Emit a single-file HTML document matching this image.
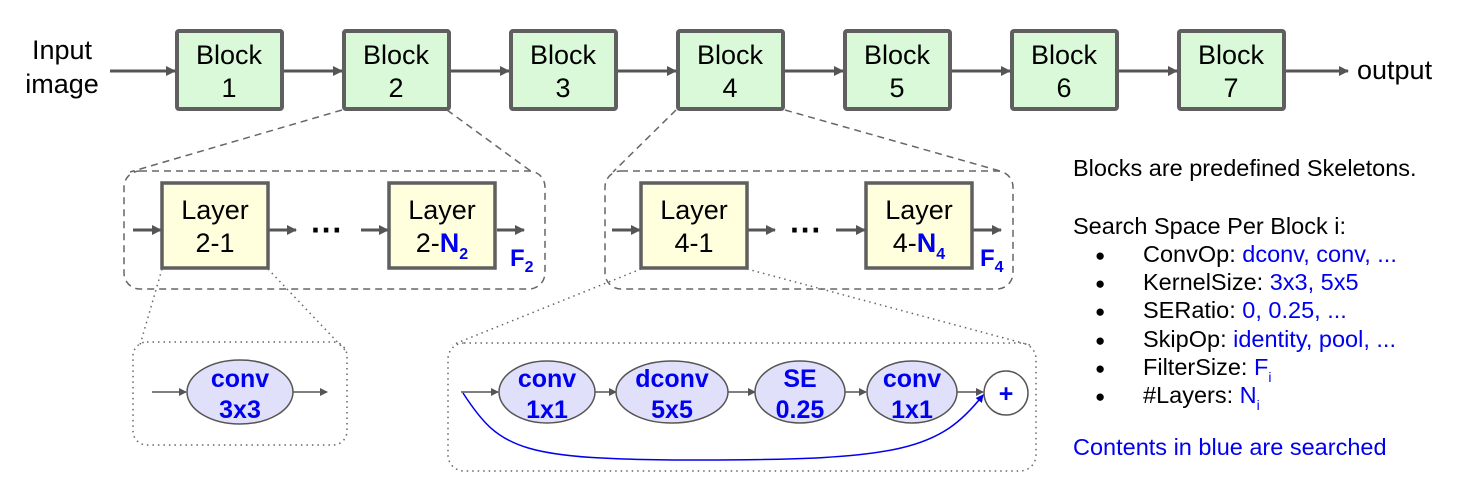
<!DOCTYPE html>
<html><head><meta charset="utf-8"><style>
html,body{margin:0;padding:0;background:#fff;}
svg{display:block;font-family:"Liberation Sans",Arial,sans-serif;}
</style></head><body>
<svg width="1462" height="481" viewBox="0 0 1462 481" xmlns="http://www.w3.org/2000/svg">
<defs>
<marker id="ah" markerWidth="10" markerHeight="10" refX="9" refY="5" orient="auto" markerUnits="userSpaceOnUse" viewBox="0 0 10 10"><path d="M0,0 L10,5 L0,10 z" fill="#555"/></marker>
<marker id="ahs" markerWidth="8" markerHeight="8" refX="7" refY="4" orient="auto" markerUnits="userSpaceOnUse" viewBox="0 0 8 8"><path d="M0,0 L8,4 L0,8 z" fill="#555"/></marker>
<marker id="ahb" markerWidth="8" markerHeight="8" refX="7" refY="4" orient="auto" markerUnits="userSpaceOnUse" viewBox="0 0 8 8"><path d="M0,0 L8,4 L0,8 z" fill="#0000ee"/></marker>
</defs>

<text x="62" y="59" font-size="27" text-anchor="middle">Input</text>
<text x="62" y="93" font-size="27" text-anchor="middle">image</text>
<g stroke="#555" stroke-width="3" fill="none">
<line x1="110" y1="71" x2="175" y2="71" marker-end="url(#ah)"/>
<line x1="283" y1="71" x2="342" y2="71" marker-end="url(#ah)"/>
<line x1="450" y1="71" x2="509" y2="71" marker-end="url(#ah)"/>
<line x1="617" y1="71" x2="676" y2="71" marker-end="url(#ah)"/>
<line x1="784" y1="71" x2="843" y2="71" marker-end="url(#ah)"/>
<line x1="951" y1="71" x2="1010" y2="71" marker-end="url(#ah)"/>
<line x1="1118" y1="71" x2="1177" y2="71" marker-end="url(#ah)"/>
<line x1="1285" y1="71" x2="1348" y2="71" marker-end="url(#ah)"/>
</g>
<g fill="#d9f9d9" stroke="#5f5f5f" stroke-width="4">
<rect x="177" y="31" width="105" height="78" rx="2"/>
<rect x="344" y="31" width="105" height="78" rx="2"/>
<rect x="511" y="31" width="105" height="78" rx="2"/>
<rect x="678" y="31" width="105" height="78" rx="2"/>
<rect x="845" y="31" width="105" height="78" rx="2"/>
<rect x="1012" y="31" width="105" height="78" rx="2"/>
<rect x="1179" y="31" width="105" height="78" rx="2"/>
</g>
<g font-size="27" text-anchor="middle">
<text x="229" y="64">Block</text><text x="229" y="97">1</text>
<text x="396" y="64">Block</text><text x="396" y="97">2</text>
<text x="563" y="64">Block</text><text x="563" y="97">3</text>
<text x="730" y="64">Block</text><text x="730" y="97">4</text>
<text x="897" y="64">Block</text><text x="897" y="97">5</text>
<text x="1064" y="64">Block</text><text x="1064" y="97">6</text>
<text x="1231" y="64">Block</text><text x="1231" y="97">7</text>
</g>
<text x="1357" y="79" font-size="27">output</text>

<g stroke="#666" stroke-width="1.5" stroke-dasharray="7,5" fill="none">
<line x1="342" y1="110" x2="130" y2="172"/>
<line x1="447" y1="110" x2="532" y2="172"/>
<line x1="676" y1="110" x2="613" y2="172"/>
<line x1="785" y1="110" x2="1000" y2="171"/>
<rect x="124" y="171" width="421" height="118" rx="16"/>
<rect x="605" y="171" width="408" height="118" rx="16"/>
</g>

<g stroke="#555" stroke-width="3" fill="none">
<line x1="133" y1="230" x2="161" y2="230" marker-end="url(#ah)"/>
<line x1="269" y1="230" x2="296" y2="230" marker-end="url(#ah)"/>
<line x1="361" y1="230" x2="388" y2="230" marker-end="url(#ah)"/>
<line x1="497" y1="230" x2="524" y2="230" marker-end="url(#ah)"/>
<line x1="612" y1="230" x2="640" y2="230" marker-end="url(#ah)"/>
<line x1="748" y1="230" x2="775" y2="230" marker-end="url(#ah)"/>
<line x1="836" y1="230" x2="865" y2="230" marker-end="url(#ah)"/>
<line x1="973" y1="230" x2="1001" y2="230" marker-end="url(#ah)"/>
</g>
<g fill="#ffffdd" stroke="#5f5f5f" stroke-width="3.5">
<rect x="162" y="183" width="106" height="85"/>
<rect x="389" y="183" width="106" height="85"/>
<rect x="641" y="183" width="106" height="85"/>
<rect x="866" y="183" width="106" height="85"/>
</g>
<g font-size="27" text-anchor="middle">
<text x="215" y="219">Layer</text><text x="215" y="252">2-1</text>
<text x="442" y="219">Layer</text><text x="442" y="252">2-<tspan fill="#0000ee" font-weight="bold">N</tspan><tspan fill="#0000ee" font-weight="bold" font-size="16" dy="7">2</tspan></text>
<text x="694" y="219">Layer</text><text x="694" y="252">4-1</text>
<text x="919" y="219">Layer</text><text x="919" y="252">4-<tspan fill="#0000ee" font-weight="bold">N</tspan><tspan fill="#0000ee" font-weight="bold" font-size="16" dy="7">4</tspan></text>
</g>
<g font-size="32" font-weight="bold" text-anchor="middle"><text x="327" y="241">···</text><text x="806" y="241">···</text></g>
<text x="510" y="266" font-size="24" font-weight="bold" fill="#0000ee">F<tspan font-size="16" dy="6">2</tspan></text>
<text x="980" y="266" font-size="24" font-weight="bold" fill="#0000ee">F<tspan font-size="16" dy="6">4</tspan></text>

<g stroke="#666" stroke-width="1.5" stroke-dasharray="1.5,4" fill="none">
<line x1="162" y1="269" x2="140" y2="345"/>
<line x1="268" y1="269" x2="345" y2="350"/>
<line x1="641" y1="269" x2="452" y2="345"/>
<line x1="747" y1="269" x2="1030" y2="345"/>
<rect x="133" y="342" width="214" height="103" rx="14"/>
<rect x="448" y="343" width="588" height="128" rx="16"/>
</g>

<g stroke="#555" stroke-width="1.5" fill="none">
<line x1="152" y1="392" x2="186" y2="392" marker-end="url(#ahs)"/>
<line x1="293" y1="392" x2="327" y2="392" marker-end="url(#ahs)"/>
<line x1="461" y1="392" x2="498" y2="392" marker-end="url(#ahs)"/>
<line x1="595" y1="392" x2="616" y2="392" marker-end="url(#ahs)"/>
<line x1="728" y1="392" x2="755" y2="392" marker-end="url(#ahs)"/>
<line x1="845" y1="392" x2="866" y2="392" marker-end="url(#ahs)"/>
<line x1="956" y1="392" x2="983" y2="392" marker-end="url(#ahs)"/>
</g>
<g fill="#e0e0fa" stroke="#555" stroke-width="1.5">
<ellipse cx="240" cy="392" rx="53" ry="32"/>
<ellipse cx="547" cy="392" rx="48" ry="31"/>
<ellipse cx="672" cy="392" rx="56" ry="31"/>
<ellipse cx="800" cy="392" rx="45" ry="31"/>
<ellipse cx="912" cy="392" rx="45" ry="31"/>
</g>
<circle cx="1006" cy="393" r="22" fill="#fff" stroke="#555" stroke-width="1.5"/>
<path d="M463,393 C500,450 520,460 700,460 C900,460 940,450 983,395" fill="none" stroke="#0000ee" stroke-width="1.5" marker-end="url(#ahb)"/>
<g font-size="25" font-weight="bold" fill="#0000ee" text-anchor="middle">
<text x="240" y="387">conv</text><text x="240" y="418">3x3</text>
<text x="547" y="387">conv</text><text x="547" y="418">1x1</text>
<text x="672" y="387">dconv</text><text x="672" y="418">5x5</text>
<text x="800" y="387">SE</text><text x="800" y="418">0.25</text>
<text x="912" y="387">conv</text><text x="912" y="418">1x1</text>
<text x="1006" y="402">+</text>
</g>

<g font-size="23.5">
<text x="1073" y="176">Blocks are predefined Skeletons.</text>
<text x="1073" y="234">Search Space Per Block i:</text>
<g font-size="17"><text x="1095" y="261">●</text><text x="1095" y="289">●</text><text x="1095" y="317">●</text><text x="1095" y="346">●</text><text x="1095" y="374">●</text><text x="1095" y="402">●</text></g>
<text x="1143" y="262">ConvOp: <tspan fill="#0000ee">dconv, conv, ...</tspan></text>
<text x="1143" y="290">KernelSize: <tspan fill="#0000ee">3x3, 5x5</tspan></text>
<text x="1143" y="318">SERatio: <tspan fill="#0000ee">0, 0.25, ...</tspan></text>
<text x="1143" y="347">SkipOp: <tspan fill="#0000ee">identity, pool, ...</tspan></text>
<text x="1143" y="375">FilterSize: <tspan fill="#0000ee">F</tspan><tspan fill="#0000ee" font-size="14" dy="7">i</tspan></text>
<text x="1143" y="403">#Layers: <tspan fill="#0000ee">N</tspan><tspan fill="#0000ee" font-size="14" dy="7">i</tspan></text>
<text x="1073" y="455" fill="#0000ee">Contents in blue are searched</text>
</g>
</svg>
</body></html>
